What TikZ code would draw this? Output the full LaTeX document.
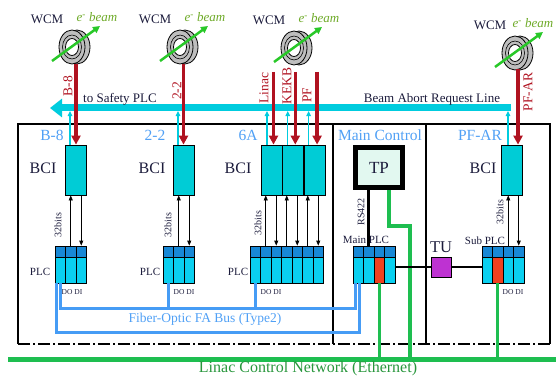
\documentclass[tikz,border=0pt]{standalone}
\usepackage{fontspec}
\setmainfont{Liberation Serif}
\usetikzlibrary{arrows.meta, positioning, calc}

\definecolor{inkdark}{RGB}{28,28,60}
\definecolor{bcicyan}{RGB}{0,204,214}
\definecolor{buscyan}{RGB}{0,204,222}
\definecolor{beamred}{RGB}{176,18,32}
\definecolor{secblue}{RGB}{80,160,245}
\definecolor{fiberblue}{RGB}{70,156,245}
\definecolor{plctop}{RGB}{24,136,214}
\definecolor{plclow}{RGB}{10,208,240}
\definecolor{plcred}{RGB}{240,64,32}
\definecolor{netgreen}{RGB}{30,190,80}
\definecolor{nettext}{RGB}{40,150,60}
\definecolor{tumag}{RGB}{190,50,210}
\definecolor{tpmint}{RGB}{226,248,240}
\definecolor{ringgray}{RGB}{190,190,190}
\definecolor{beamgreen}{RGB}{40,200,40}
\definecolor{beamtext}{RGB}{110,170,40}

\tikzset{
  bci/.style={draw, line width=0.8pt, fill=bcicyan, minimum width=21pt, minimum height=50pt, inner sep=0pt},
  plccol/.style={draw, line width=0.8pt, minimum width=10.5pt, minimum height=37pt, inner sep=0pt,
    path picture={
      \fill[plctop] (path picture bounding box.north west) rectangle ([yshift=-11pt]path picture bounding box.north east);
      \draw[line width=0.6pt] ([yshift=-11pt]path picture bounding box.north west) -- ([yshift=-11pt]path picture bounding box.north east);}},
  frame/.style={line width=1.6pt},
  redsig/.style={draw=beamred, line width=3.5pt, -{Triangle[length=9pt,width=9pt]}},
  tap/.style={draw=buscyan, line width=1.2pt, -{Triangle[length=5pt,width=4.5pt]}, shorten >=3pt},
  busline/.style={draw=buscyan, line width=7pt, -{Triangle[length=12pt,width=18pt]}},
  sig/.style={line width=0.8pt, -{Triangle[length=5pt,width=4pt]}},
  beamarr/.style={draw=beamgreen, line width=2.5pt, -{Triangle[length=7pt,width=7pt]}},
  fiber/.style={draw=fiberblue, line width=3pt},
  lan/.style={draw=netgreen, line width=3.2pt},
  lanbus/.style={draw=netgreen, line width=5pt},
  wcmtxt/.style={font=\fontsize{13}{15}\selectfont, text=inkdark},
  beamtxt/.style={font=\fontsize{13}{15}\selectfont, text=beamtext},
  seclbl/.style={font=\fontsize{15.5}{17}\selectfont, text=secblue},
  bcilbl/.style={font=\fontsize{16}{18}\selectfont, text=inkdark},
  redlbl/.style={rotate=90, font=\fontsize{13.5}{15}\selectfont, text=beamred},
  bitlbl/.style={rotate=90, font=\fontsize{10}{12}\selectfont, text=inkdark},
  plclbl/.style={font=\fontsize{11}{13}\selectfont, text=inkdark},
  dodi/.style={font=\fontsize{7.5}{9}\selectfont, text=inkdark},
  bustxt/.style={font=\fontsize{13}{15}\selectfont, text=inkdark}
}

\begin{document}
\begin{tikzpicture}[x=1pt, y=-1pt]
  \useasboundingbox (0,0) rectangle (556,377);

  \foreach \nm/\cx/\cy/\dx in {wa/72/47/25, wb/180/47/25, wc/294/48/25, wd/515/53/18} {
    \coordinate (\nm) at (\cx,\cy);
    \filldraw[fill=ringgray, line width=0.8pt] (\cx+5,\cy) ellipse [x radius=13pt, y radius=17pt];
    \filldraw[fill=ringgray, line width=0.8pt] (\nm) ellipse [x radius=13pt, y radius=17pt];
    \draw[line width=0.6pt] (\nm) ellipse [x radius=9.5pt, y radius=12pt];
    \filldraw[fill=white, line width=0.8pt] (\nm) ellipse [x radius=6.5pt, y radius=8.5pt];
    \draw[beamarr] (\cx-20,\cy+14) -- (\cx+28,\cy-21);
    \node[wcmtxt] (\nm-lbl) at (\cx-25,\cy-28) {WCM};
    \node[beamtxt] (\nm-dir) at (\cx+\dx,\cy-30) {\textit{e}\textsuperscript{-} \textit{beam}};
  }

  \draw[frame] (18,344) -- (18,124) -- (550,124) -- (550,344);
  \draw[frame, dash pattern=on 12pt off 3pt on 2pt off 3pt] (18,344) -- (550,344);
  \draw[frame] (333,124) -- (333,344) (426,124) -- (426,344);

  \node[seclbl] (secB8) at (52,135) {B-8};
  \node[seclbl] (sec22) at (155,135) {2-2};
  \node[seclbl] (sec6A) at (248,135) {6A};
  \node[seclbl] (secMC) at (380,135) {Main Control};
  \node[seclbl] (secPF) at (480,135) {PF-AR};

  \node[bci] (bciB8) at (76,170) {};
  \node[bci] (bci22) at (183.5,170) {};
  \node[bci] (bciA) at (271.5,170) {};
  \node[bci, right=0pt of bciA] (bciB) {};
  \node[bci, right=0pt of bciB] (bciC) {};
  \node[bci] (bciPF) at (512,170) {};
  \node[bcilbl] (lblB8) at (43,168) {BCI};
  \node[bcilbl] (lbl22) at (152,168) {BCI};
  \node[bcilbl] (lbl6A) at (238,168) {BCI};
  \node[bcilbl] (lblPF) at (483,168) {BCI};

  \foreach \nm/\x/\n/\r in {b8/55/3/0, tt/163/3/0, sa/250/7/0, mn/353/4/3, sb/482/4/2} {
    \foreach \i in {1,...,\n} {
      \ifnum\i=\r\relax \colorlet{colfill}{plcred}\else \colorlet{colfill}{plclow}\fi
      \node[plccol, fill=colfill] (\nm\i) at (\x+\i*10.5-5.25,264.5) {};
    }
  }
  \node[plclbl] (plcB8) at (40,272) {PLC};
  \node[plclbl] (plc22) at (150,272) {PLC};
  \node[plclbl] (plc6A) at (238,272) {PLC};
  \node[plclbl] (plcMn) at (366,240) {Main PLC};
  \node[plclbl] (plcSb) at (485,241) {Sub PLC};
  \node[dodi] (ioB8) at (72,292) {DO DI};
  \node[dodi] (io22) at (184,292) {DO DI};
  \node[dodi] (io6A) at (271,292) {DO DI};
  \node[dodi] (ioSb) at (513,292) {DO DI};

  \coordinate (busR) at (511,108);
  \coordinate (busL) at (50,108);
  \foreach \b/\dx in {bciB8/-6, bci22/-5.5, bciA/-4.5, bciB/-5.5, bciC/-6.5, bciPF/-4}
    \draw[tap] ([xshift=\dx pt]\b.north) -- ([xshift=\dx pt]\b.north |- busL);
  \draw[busline] (busR) -- (busL);
  \node[bustxt] (toSafety) at (120,99) {to Safety PLC};
  \node[bustxt] (abortLine) at (432,99) {Beam Abort Request Line};

  \draw[redsig] ($(bciB8.north |- wa)+(0,17)$) -- (bciB8.north);
  \draw[redsig] ($(bci22.north |- wb)+(0,17)$) -- (bci22.north);
  \foreach \b in {bciA, bciB, bciC}
    \draw[redsig] ($(\b.north |- wc)+(2,24)$) -- ([xshift=2pt]\b.north);
  \draw[redsig] ($(bciPF.north |- wd)+(6,16)$) -- ([xshift=6pt]bciPF.north);
  \node[redlbl] (srcB8) at (68,86) {B-8};
  \node[redlbl] (src22) at (177,91) {2-2};
  \node[redlbl] (srcLinac) at (264,88) {Linac};
  \node[redlbl] (srcKEKB) at (287,86) {KEKB};
  \node[redlbl] (srcPF) at (307,95) {PF};
  \node[redlbl] (srcPFAR) at (528,92) {PF-AR};

  \foreach \p/\b in {b82/bciB8, tt2/bci22, sa2/bciA, sa4/bciB, sa6/bciC, sb3/bciPF}
    \draw[sig] (\p.north) -- (\p.north |- \b.south);
  \foreach \p/\b in {b83/bciB8, tt3/bci22, sa3/bciA, sa5/bciB, sa7/bciC, sb4/bciPF}
    \draw[sig] (\p.north |- \b.south) -- (\p.north);
  \node[bitlbl] (bitB8) at (58,225) {32bits};
  \node[bitlbl] (bit22) at (168,225) {32bits};
  \node[bitlbl] (bit6A) at (258,223) {32bits};
  \node[bitlbl] (bitPF) at (500,212) {32bits};

  \node[draw, line width=5pt, fill=tpmint, minimum width=47pt, minimum height=40pt,
        font=\fontsize{17}{19}\selectfont, text=inkdark] (tp) at (379,167.5) {TP};
  \draw[line width=3pt] (mn2.north |- tp.south) -- (mn2.north);
  \node[bitlbl] (rs) at (361,212) {RS422};

  \draw[fiber] (b81.south) -- ++(0,25) -| (tt1.south);
  \draw[fiber] (tt1.south) -- ++(0,25) -| (sa1.south);
  \draw[fiber] (sa1.south) -- ++(0,25) -| ([xshift=-3pt]mn1.south);
  \draw[fiber] ([xshift=-4pt]b81.south) -- ++(0,49) -| ([xshift=1pt]mn1.south);
  \node[font=\fontsize{13.5}{15}\selectfont, text=secblue] (fiberlbl) at (205,319) {Fiber-Optic FA Bus (Type2)};

  \coordinate (netL) at (8,359);
  \coordinate (netR) at (556,359);
  \coordinate (tpdrop) at (410,359);
  \draw[lan] ([xshift=10pt]tp.south) -- ++(0,36) -| (tpdrop);
  \draw[lan] (mn3.south) -- (mn3.south |- netL);
  \draw[lan] (sb2.south) -- (sb2.south |- netL);
  \draw[lanbus] (netL) -- (netR);
  \node[font=\fontsize{16}{18}\selectfont, text=nettext] (netlbl) at (308,369) {Linac Control Network (Ethernet)};

  \node[draw, line width=0.8pt, fill=tumag, minimum size=20pt, inner sep=0pt] (tu) at (441,267) {};
  \node[font=\fontsize{16.5}{18}\selectfont, text=inkdark] (tulbl) at (441,247) {TU};
  \draw[line width=1.8pt] (tu.west -| mn4.east) -- (tu.west);
  \draw[line width=1.8pt] (tu.east) -- (tu.east -| sb1.west);
\end{tikzpicture}
\end{document}
